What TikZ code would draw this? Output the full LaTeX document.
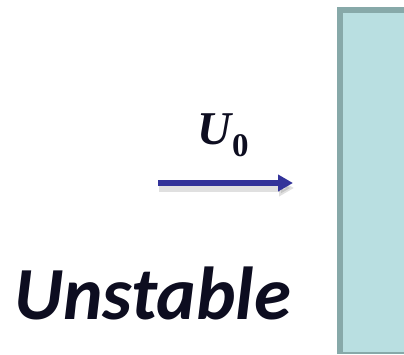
\documentclass[tikz,border=0pt]{standalone}
\usepackage{fontspec}
\newfontfamily\labelfont{Carlito}
\newfontfamily\speedfont{Liberation Serif}
\usetikzlibrary{arrows.meta}

\definecolor{flowblue}{HTML}{33339A}
\definecolor{inkdark}{HTML}{0D0D20}
\definecolor{wallfill}{HTML}{B9DFE1}
\definecolor{walledge}{HTML}{87A9A9}

\tikzset{
  flowarrow/.style={->, flowblue, line width=6pt},
  flowshadow/.style={->, black, opacity=0.12, line width=8pt},
  titletext/.style={inkdark, font=\labelfont\bfseries\itshape\fontsize{75}{85}\selectfont, inner sep=0pt},
  speedtext/.style={inkdark, font=\speedfont\bfseries\fontsize{47}{56}\selectfont, inner sep=0pt}
}

\begin{document}
\begin{tikzpicture}[x=1pt, y=-1pt, >={Triangle[length=15pt,width=16pt]}]
        \useasboundingbox (0,0) rectangle (404,355);

        % Wall on the right
        \fill[walledge] (337,7) rectangle (410,354);
        \fill[wallfill] (343,13) rectangle (410,352);

        % Incoming flow
        \coordinate (flowstart) at (158,183);
        \coordinate (flowend) at (293,183);
        \draw[flowshadow] ([shift={(1,5)}]flowstart) -- ([shift={(1,5)}]flowend);
        \draw[flowarrow] (flowstart) -- (flowend);
        \node[speedtext, anchor=base west] (speed) at (197,145)
            {\itshape U\hspace{1pt}\raisebox{-12pt}{\upshape\fontsize{33}{40}\selectfont 0}};

        % Label
        \node[titletext, anchor=base west] (state) at (14,319) {Unstable};
    \end{tikzpicture}
\end{document}
